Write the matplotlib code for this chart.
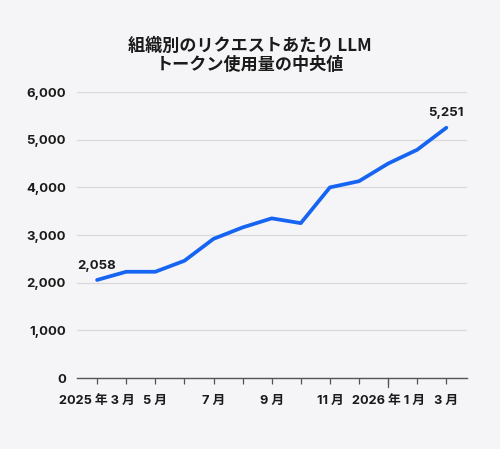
import numpy as np
import matplotlib
matplotlib.use("Agg")
import matplotlib.pyplot as plt
from matplotlib.ticker import FuncFormatter, FixedLocator

plt.rcParams['font.family'] = ['Inter', 'Noto Sans CJK JP', 'DejaVu Sans']

# data
months = ["2025 年 3 月", "4 月", "5 月", "6 月", "7 月", "8 月", "9 月",
          "10 月", "11 月", "12 月", "2026 年 1 月", "2 月", "3 月"]
tokens = [2058, 2230, 2230, 2460, 2920, 3160, 3350, 3250, 4000, 4130, 4500, 4790, 5251]
yticks = [0, 1000, 2000, 3000, 4000, 5000, 6000]
title = "組織別のリクエストあたり LLM\nトークン使用量の中央値"

BG = "#f5f5f7"
LINE = "#1565f2"
TEXT = "#1a1a1a"

fig = plt.figure(figsize=(5.0, 4.49), dpi=100, facecolor=BG)
ax = fig.add_axes([0.154, 0.158, 0.78, 0.637], facecolor=BG)

x = np.arange(len(months))
ax.plot(x, tokens, color=LINE, linewidth=2.7, solid_capstyle="round",
        solid_joinstyle="round", zorder=3, clip_on=False)

# end labels
for i in (0, len(tokens) - 1):
    ax.annotate(f"{tokens[i]:,}", (x[i], tokens[i]), xytext=(0, 6),
                textcoords="offset points", ha="center", va="bottom",
                fontsize=9.5, fontweight="bold", color=TEXT)

ax.set_xlim(-0.69, 12.71)
ax.set_ylim(0, 6000)
ax.set_yticks(yticks)
ax.yaxis.set_major_formatter(FuncFormatter(lambda v, p: f"{int(v):,}"))
ax.grid(axis="y", color="#d9d9dc", linewidth=0.9)
ax.set_axisbelow(True)

# month ticks: labels on odd months, minor ticks every month, longer at year start
label_idx = [0, 2, 4, 6, 8, 10, 12]
ax.xaxis.set_major_locator(FixedLocator(label_idx))
ax.set_xticklabels([months[i] for i in label_idx])
ax.xaxis.set_minor_locator(FixedLocator([i for i in x if i not in label_idx]))
ax.tick_params(axis="x", which="both", length=4, width=0.9, color="#555555",
               labelsize=9.2, labelcolor=TEXT, pad=8)
ax.tick_params(axis="y", length=0, labelsize=9.5, labelcolor=TEXT, pad=8)
for lab in ax.get_xticklabels() + ax.get_yticklabels():
    lab.set_fontweight("bold")

# year boundary tick is longer
ax.plot([10, 10], [0, -0.03], transform=ax.get_xaxis_transform(),
        color="#555555", linewidth=0.9, clip_on=False)

for s in ("top", "right", "left"):
    ax.spines[s].set_visible(False)
ax.spines["bottom"].set_color("#555555")
ax.spines["bottom"].set_linewidth(1.0)

fig.text(0.5, 0.835, title, ha="center", va="bottom", fontsize=12.3,
         fontweight="bold", color=TEXT, linespacing=1.1,
         family=['Noto Sans CJK JP', 'DejaVu Sans'])

fig.savefig("out.png", dpi=100, facecolor=BG)
